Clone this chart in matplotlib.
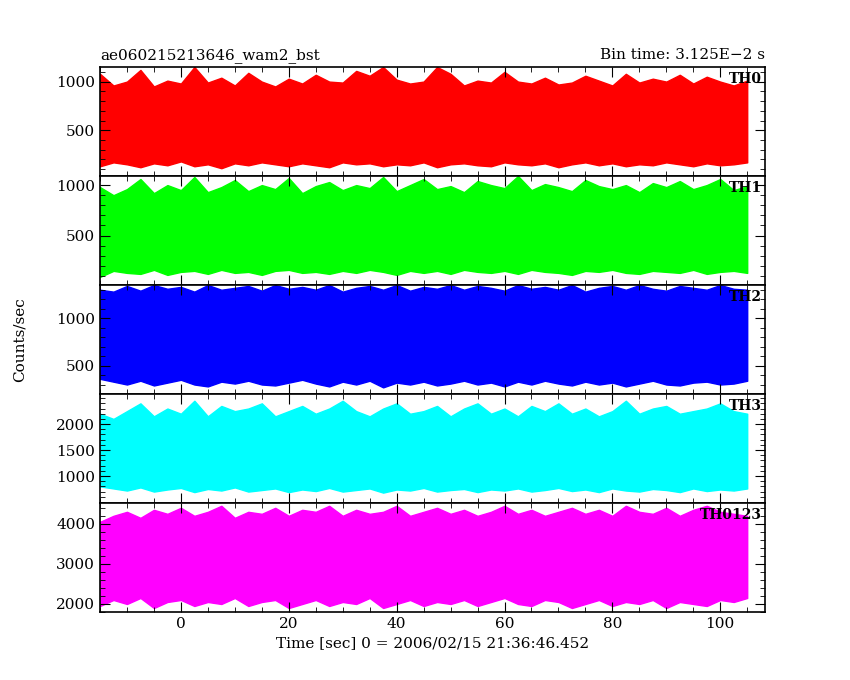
import numpy as np
import matplotlib.pyplot as plt

# time grid of envelope samples (sec), every 2.5 s
time_sec = np.arange(-15, 105.1, 2.5)

# upper / lower envelope of each light curve (counts/sec), read by eye
th0_hi = [1080, 960, 1000, 1120, 950, 1010, 980, 1150, 990, 1040, 960, 1090, 1000, 950, 1030, 980,
          1070, 1000, 990, 1110, 1060, 1150, 1020, 980, 1000, 1150, 1080, 960, 1010, 990, 1100, 1000,
          980, 1040, 970, 990, 1060, 1010, 960, 1080, 990, 1030, 1000, 1070, 980, 1050, 1000, 960, 1010]
th0_lo = [130, 170, 150, 120, 160, 140, 180, 130, 150, 110, 160, 140, 170, 150, 130, 160,
          140, 120, 170, 150, 160, 130, 150, 140, 170, 120, 150, 160, 140, 130, 170, 150,
          140, 160, 120, 150, 170, 140, 160, 130, 150, 140, 170, 150, 130, 160, 140, 150, 170]
th1_hi = [980, 900, 960, 1060, 920, 1000, 950, 1080, 930, 980, 1050, 940, 1000, 960, 1070, 920,
          990, 1030, 950, 1000, 970, 1080, 940, 1000, 1060, 960, 990, 930, 1040, 1000, 970, 1090,
          950, 1010, 980, 940, 1050, 990, 960, 1000, 930, 1020, 980, 1040, 960, 1000, 1060, 950, 990]
th1_lo = [90, 150, 130, 120, 160, 110, 140, 150, 120, 160, 130, 140, 110, 150, 160, 130,
          140, 120, 150, 130, 160, 140, 110, 150, 130, 150, 120, 160, 140, 130, 150, 120,
          160, 140, 130, 110, 150, 140, 160, 130, 120, 150, 140, 130, 160, 120, 140, 150, 130]
th2_hi = [1300, 1280, 1340, 1290, 1350, 1310, 1330, 1280, 1350, 1300, 1320, 1340, 1290, 1350, 1310, 1330,
          1300, 1350, 1280, 1320, 1340, 1300, 1350, 1290, 1330, 1310, 1350, 1300, 1340, 1320, 1290, 1350,
          1310, 1330, 1300, 1350, 1280, 1320, 1340, 1300, 1350, 1310, 1290, 1340, 1320, 1300, 1350, 1310, 1300]
th2_lo = [360, 330, 300, 340, 290, 320, 350, 300, 280, 330, 310, 340, 300, 290, 320, 350,
          310, 280, 330, 300, 340, 270, 320, 300, 330, 290, 310, 340, 300, 320, 280, 330,
          300, 340, 310, 290, 330, 300, 320, 280, 310, 340, 300, 290, 320, 330, 300, 310, 340]
th3_hi = [2200, 2100, 2250, 2400, 2150, 2300, 2200, 2450, 2150, 2350, 2250, 2300, 2400, 2150, 2250, 2350,
          2200, 2300, 2450, 2250, 2150, 2300, 2400, 2200, 2250, 2350, 2150, 2300, 2400, 2200, 2300, 2150,
          2350, 2250, 2400, 2200, 2300, 2150, 2250, 2450, 2200, 2300, 2350, 2200, 2250, 2300, 2400, 2250, 2200]
th3_lo = [800, 760, 720, 780, 700, 740, 770, 690, 750, 720, 780, 700, 730, 760, 690, 740,
          710, 770, 700, 730, 760, 680, 740, 720, 770, 700, 730, 750, 690, 740, 720, 760,
          700, 730, 770, 710, 740, 690, 760, 720, 700, 750, 730, 690, 760, 710, 740, 720, 760]
th0123_hi = [4050, 4200, 4300, 4150, 4350, 4250, 4400, 4200, 4300, 4450, 4150, 4300, 4250, 4400, 4200, 4350,
             4300, 4450, 4200, 4350, 4250, 4300, 4450, 4200, 4300, 4400, 4250, 4350, 4200, 4300, 4450, 4250,
             4350, 4200, 4300, 4400, 4250, 4350, 4200, 4450, 4300, 4250, 4400, 4200, 4350, 4450, 4300, 4250, 4200]
th0123_lo = [1950, 2100, 2000, 2150, 1900, 2050, 2100, 1950, 2050, 2000, 2150, 1950, 2050, 2100, 1900, 2000,
             2100, 1950, 2050, 2000, 2150, 1900, 2000, 2100, 1950, 2050, 2000, 2100, 1950, 2050, 2150, 2000,
             1950, 2100, 2050, 1900, 2000, 2100, 1950, 2050, 2000, 2100, 1900, 2050, 2000, 1950, 2100, 2050, 2150]

panels = [("TH0", th0_lo, th0_hi, "#ff0000", (30, 1150), [500, 1000]),
          ("TH1", th1_lo, th1_hi, "#00ff00", (10, 1090), [500, 1000]),
          ("TH2", th2_lo, th2_hi, "#0000ff", (200, 1350), [500, 1000]),
          ("TH3", th3_lo, th3_hi, "#00ffff", (480, 2580), [1000, 1500, 2000]),
          ("TH0123", th0123_lo, th0123_hi, "#ff00ff", (1800, 4520), [2000, 3000, 4000])]

plt.rcParams['font.family'] = 'DejaVu Serif'
fig = plt.figure(figsize=(8.5, 6.8), dpi=100)
left, right, top, bottom = 100 / 850, 765 / 850, 1 - 67 / 680, 1 - 612 / 680
h = (top - bottom) / 5

for i, (name, lo, hi, col, ylim, ticks) in enumerate(panels):
    ax = fig.add_axes([left, top - (i + 1) * h, right - left, h])
    ax.fill_between(time_sec, lo, hi, color=col, lw=1, edgecolor=col)
    ax.set_xlim(-15, 108.3)
    ax.set_ylim(*ylim)
    ax.set_yticks(ticks)
    ax.minorticks_on()
    ax.tick_params(which="both", direction="in", top=True, right=True, labelsize=11)
    ax.tick_params(which="major", length=7)
    ax.tick_params(which="minor", length=3.5)
    ax.text(0.995, 0.95, name, transform=ax.transAxes, ha="right", va="top",
            fontsize=10, fontweight="bold")
    for s in ax.spines.values():
        s.set_linewidth(1.2)
    if i < 4:
        ax.set_xticklabels([])
    else:
        ax.set_xlabel("Time [sec] 0 = 2006/02/15 21:36:46.452", fontsize=11)
    if i == 0:
        ax.set_title("ae060215213646_wam2_bst", loc="left", fontsize=11)
        ax.set_title("Bin time: 3.125E\u22122 s", loc="right", fontsize=11)

fig.text(0.015, (top + bottom) / 2, "Counts/sec", rotation=90, va="center", fontsize=11)
fig.savefig("out.png", dpi=100)
